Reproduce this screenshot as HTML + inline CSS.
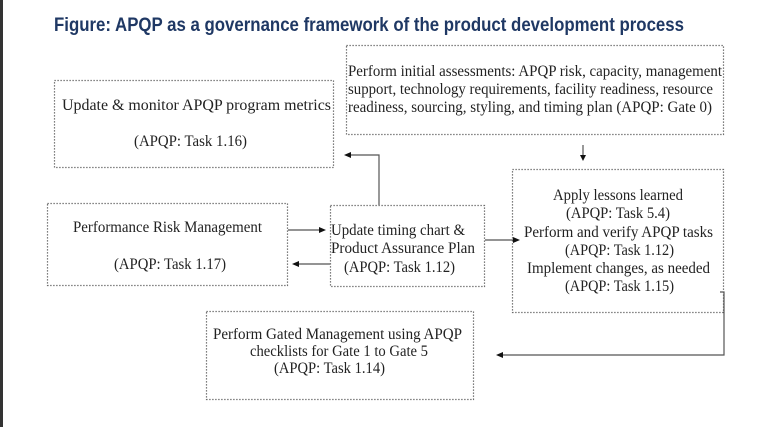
<!DOCTYPE html>
<html><head><meta charset="utf-8"><style>
html,body{margin:0;padding:0;background:#fff;}
svg{display:block;}
.t{font-family:"Liberation Serif",serif;font-size:15.5px;fill:#222;}
</style></head><body>
<svg width="768" height="427" viewBox="0 0 768 427" xmlns="http://www.w3.org/2000/svg">
<rect x="0" y="0" width="3" height="427" fill="#333"/>
<text x="54" y="31" font-family="Liberation Sans, sans-serif" font-weight="bold" font-size="19" fill="#1f3864" textLength="630" lengthAdjust="spacingAndGlyphs">Figure: APQP as a governance framework of the product development process</text>
<g fill="none" stroke="#555" stroke-width="1.2" stroke-dasharray="1.2,1.8">
<rect x="54.5" y="80.5" width="279" height="87"/>
<rect x="346.5" y="45.5" width="377" height="89"/>
<rect x="512.5" y="169.5" width="211" height="143"/>
<rect x="47.5" y="203.5" width="240" height="82"/>
<rect x="330.5" y="205.5" width="154" height="81"/>
<rect x="206.5" y="311.5" width="267" height="88"/>
</g>
<g stroke="#555" stroke-width="1.2" fill="none">
<polyline points="379,205 379,155 350,155"/>
<line x1="583" y1="145" x2="583" y2="156"/>
<line x1="288" y1="230" x2="320" y2="230"/>
<line x1="330" y1="264" x2="298" y2="264"/>
<line x1="485" y1="240" x2="514" y2="240"/>
<polyline points="720,292 724,292 724,355 502,355"/>
</g>
<g fill="#111">
<polygon points="344,155 351,152 351,158"/>
<polygon points="583,161 580,155 586,155"/>
<polygon points="326,230 319,227 319,233"/>
<polygon points="292,264 299,261 299,267"/>
<polygon points="520,240 513,237 513,243"/>
<polygon points="496,355 503,352 503,358"/>
</g>
<text class="t" x="348" y="76" textLength="374" lengthAdjust="spacingAndGlyphs">Perform initial assessments: APQP risk, capacity, management</text>
<text class="t" x="348" y="94" textLength="365" lengthAdjust="spacingAndGlyphs">support, technology requirements, facility readiness, resource</text>
<text class="t" x="348" y="112" textLength="364" lengthAdjust="spacingAndGlyphs">readiness, sourcing, styling, and timing plan (APQP: Gate 0)</text>
<text class="t" x="62" y="110" textLength="269" lengthAdjust="spacingAndGlyphs">Update &amp; monitor APQP program metrics</text>
<text class="t" x="134" y="146" textLength="113" lengthAdjust="spacingAndGlyphs">(APQP: Task 1.16)</text>
<text class="t" x="73" y="232" textLength="189" lengthAdjust="spacingAndGlyphs">Performance Risk Management</text>
<text class="t" x="114" y="269" textLength="112" lengthAdjust="spacingAndGlyphs">(APQP: Task 1.17)</text>
<text class="t" x="331" y="235" textLength="134" lengthAdjust="spacingAndGlyphs">Update timing chart &amp;</text>
<text class="t" x="331" y="253" textLength="144" lengthAdjust="spacingAndGlyphs">Product Assurance Plan</text>
<text class="t" x="344" y="272" textLength="111" lengthAdjust="spacingAndGlyphs">(APQP: Task 1.12)</text>
<text class="t" x="553" y="200" textLength="130" lengthAdjust="spacingAndGlyphs">Apply lessons learned</text>
<text class="t" x="566" y="218" textLength="104" lengthAdjust="spacingAndGlyphs">(APQP: Task 5.4)</text>
<text class="t" x="524" y="237" textLength="189" lengthAdjust="spacingAndGlyphs">Perform and verify APQP tasks</text>
<text class="t" x="565" y="255" textLength="109" lengthAdjust="spacingAndGlyphs">(APQP: Task 1.12)</text>
<text class="t" x="527" y="273" textLength="183" lengthAdjust="spacingAndGlyphs">Implement changes, as needed</text>
<text class="t" x="565" y="291" textLength="109" lengthAdjust="spacingAndGlyphs">(APQP: Task 1.15)</text>
<text class="t" x="213" y="339" textLength="249" lengthAdjust="spacingAndGlyphs">Perform Gated Management using APQP</text>
<text class="t" x="250" y="356" textLength="178" lengthAdjust="spacingAndGlyphs">checklists for Gate 1 to Gate 5</text>
<text class="t" x="274" y="373" textLength="111" lengthAdjust="spacingAndGlyphs">(APQP: Task 1.14)</text>
</svg>
</body></html>
